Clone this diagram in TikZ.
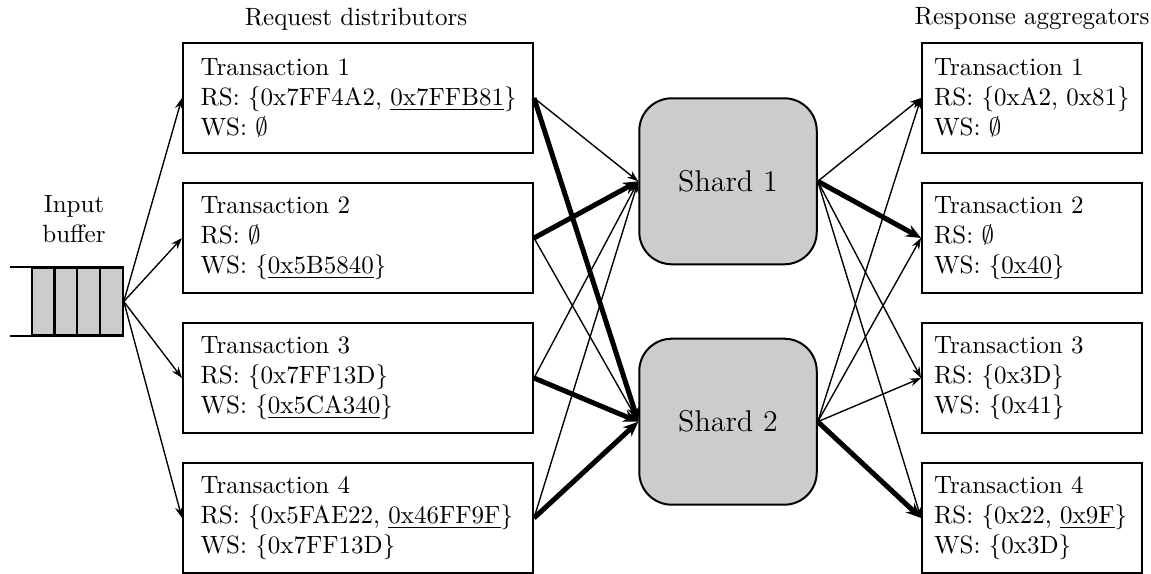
\documentclass[tikz,border=0pt]{standalone}
\usetikzlibrary{arrows.meta}
\begin{document}
\begin{tikzpicture}[x=0.4pt,y=-0.4pt,
  lbox/.style={draw, line width=0.8pt, minimum width=140pt, minimum height=44pt, text width=126pt, align=left, inner xsep=7pt, inner ysep=0pt},
  rbox/.style={draw, line width=0.8pt, minimum width=88pt, minimum height=44pt, text width=78.4pt, align=left, inner xsep=4.8pt, inner ysep=0pt},
  shardbox/.style={draw, line width=0.8pt, fill=black!20, rounded corners=13pt, minimum width=71pt, minimum height=66.4pt, font=\large},
  cell/.style={draw, line width=0.8pt, fill=black!20, minimum width=9.1pt, minimum height=26.8pt, inner sep=0pt},
  thinarr/.style={line width=0.55pt, -{Stealth[length=4.5pt,width=3.2pt]}},
  heavyarr/.style={line width=2pt, -{Stealth[length=6pt,width=5pt]}},
  lbl/.style={inner sep=0pt}
]
\useasboundingbox (0,0) rectangle (1151,573);

% labels
\node[lbl] (reqlbl) at (356,19) {Request distributors};
\node[lbl, anchor=east] (reslbl) at (1150,19) {Response aggregators};
\node[lbl, align=center] (inlbl) at (74,219) {Input\\buffer};

% input buffer
\node[cell] (c1) at (43.1,301.5) {};
\node[cell] (c2) at (65.9,301.5) {};
\node[cell] (c3) at (88.6,301.5) {};
\node[cell] (c4) at (111.4,301.5) {};
\draw[line width=0.8pt] (c4.north east) -- ++(-114,0);
\draw[line width=0.8pt] (c4.south east) -- ++(-114,0);

% request distributors
\node[lbox] (L1) at (358,98) {\mbox{Transaction 1}\\\mbox{RS: $\{$0x7FF4A2, \underline{0x7FFB81}$\}$}\\\mbox{WS: $\emptyset$}};
\node[lbox] (L2) at (358,238) {\mbox{Transaction 2}\\\mbox{RS: $\emptyset$}\\\mbox{WS: $\{$\underline{0x5B5840}$\}$}};
\node[lbox] (L3) at (358,378) {\mbox{Transaction 3}\\\mbox{RS: $\{$0x7FF13D$\}$}\\\mbox{WS: $\{$\underline{0x5CA340}$\}$}};
\node[lbox] (L4) at (358,518) {\mbox{Transaction 4}\\\mbox{RS: $\{$0x5FAE22, \underline{0x46FF9F}$\}$}\\\mbox{WS: $\{$0x7FF13D$\}$}};

% shards
\node[shardbox] (S1) at (728,181.3) {Shard 1};
\node[shardbox] (S2) at (728,421.7) {Shard 2};

% response aggregators
\node[rbox] (R1) at (1032,98) {\mbox{Transaction 1}\\\mbox{RS: $\{$0xA2, 0x81$\}$}\\\mbox{WS: $\emptyset$}};
\node[rbox] (R2) at (1032,238) {\mbox{Transaction 2}\\\mbox{RS: $\emptyset$}\\\mbox{WS: $\{$\underline{0x40}$\}$}};
\node[rbox] (R3) at (1032,378) {\mbox{Transaction 3}\\\mbox{RS: $\{$0x3D$\}$}\\\mbox{WS: $\{$0x41$\}$}};
\node[rbox] (R4) at (1032,518) {\mbox{Transaction 4}\\\mbox{RS: $\{$0x22, \underline{0x9F}$\}$}\\\mbox{WS: $\{$0x3D$\}$}};

% buffer to distributors
\draw[thinarr] (c4.east) -- (L1.west);
\draw[thinarr] (c4.east) -- (L2.west);
\draw[thinarr] (c4.east) -- (L3.west);
\draw[thinarr] (c4.east) -- (L4.west);

% distributors to shards
\draw[thinarr] (L1.east) -- (S1.west);
\draw[heavyarr] (L1.east) -- (S2.west);
\draw[heavyarr] (L2.east) -- (S1.west);
\draw[thinarr] (L2.east) -- (S2.west);
\draw[thinarr] (L3.east) -- (S1.west);
\draw[heavyarr] (L3.east) -- (S2.west);
\draw[thinarr] (L4.east) -- (S1.west);
\draw[heavyarr] (L4.east) -- (S2.west);

% shards to aggregators
\draw[thinarr] (S1.east) -- (R1.west);
\draw[heavyarr] (S1.east) -- (R2.west);
\draw[thinarr] (S1.east) -- (R3.west);
\draw[thinarr] (S1.east) -- (R4.west);
\draw[thinarr] (S2.east) -- (R1.west);
\draw[thinarr] (S2.east) -- (R2.west);
\draw[thinarr] (S2.east) -- (R3.west);
\draw[heavyarr] (S2.east) -- (R4.west);
\end{tikzpicture}
\end{document}
